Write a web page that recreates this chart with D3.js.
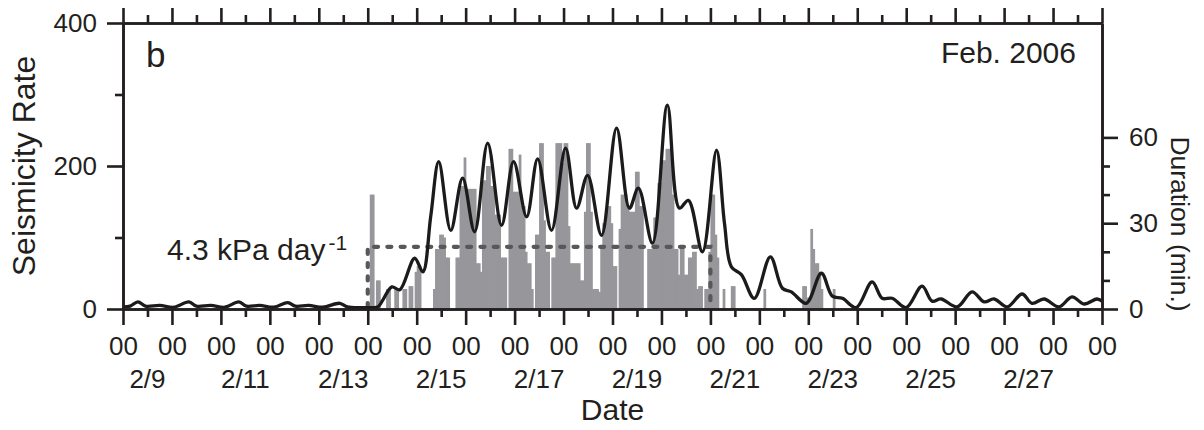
<!DOCTYPE html>
<html>
<head>
<meta charset="utf-8">
<title>Seismicity rate and tremor duration, Feb. 2006</title>
<script src="https://cdn.jsdelivr.net/npm/d3@7/dist/d3.min.js"></script>
<style>
  body { margin: 0; background: #fff; }
  svg { font-family: "Liberation Sans", Arial, Helvetica, sans-serif; }
  .axis path, .axis line { stroke: #231f20; stroke-width: 2.6px; }
  .axis text { fill: #231f20; font-size: 26px; }
  .lbl { fill: #231f20; }
</style>
</head>
<body>
<svg id="svg" width="1204" height="430"></svg>
<script>
// hours after 2006-02-09 00:00 UTC
var startDate = Date.UTC(2006, 1, 9);
var endHour = 480;

// seismicity rate curve (left axis)
var rateHours = [0, 3.5, 7.3, 11, 18, 25, 32.3, 36, 43, 50, 56.8, 60.5, 67, 74, 80.8, 84.5, 91, 98,
  106.3, 110, 118, 122, 125, 127.3, 131.8, 135.7, 143, 147, 150.9, 154.8, 160.7, 166.5, 172.4,
  178.8, 185.6, 191.5, 197.9, 203.3, 210.1, 217, 222.4, 227.8, 234.6, 242, 248.3, 252.7, 259.6,
  266.9, 272.8, 277.2, 284.1, 291, 294.9, 298.3, 303.2, 309.5, 317.4, 323.3, 327.7, 335, 342.4,
  347.8, 352.7, 359.5, 367.3, 372.2, 377.1, 384, 391.8, 396.7, 401.1, 409, 416.3, 422.2, 427.1,
  433.5, 440.8, 445.7, 451.6, 458.9, 465.3, 471.2, 477.6, 480];
var rateValues = [3, 4, 10, 4, 5, 2.5, 10, 4, 5, 2.5, 10, 4, 5, 2.5, 9, 4, 5, 2.5,
  8, 3, 2, 2, 3, 12, 31, 27, 71, 52, 130, 206, 110, 183, 108,
  232, 117, 206, 129, 210, 110, 225, 141, 187, 103, 253, 141, 169, 92,
  285, 141, 152, 80, 222, 120, 59, 48, 15, 73, 29, 24, 8, 50,
  18, 15, 2, 38, 15, 15, 2, 32, 11, 14, 3, 24, 10, 14,
  3, 21, 8, 14, 3, 17, 7, 14, 11];

// hourly tremor duration bars (right axis, minutes)
var barHours = [121, 122, 124, 125, 129, 130, 133, 134, 137, 138, 140, 141, 143, 144, 145,
  152, 153, 154, 155, 156, 157, 158, 159,
  163, 164, 165, 166, 167, 168, 169, 170, 171, 172, 173, 174,
  175, 176, 177, 178, 179, 180, 181, 182, 183, 184, 185, 186, 187,
  189, 190, 191, 192, 193, 194, 195, 196, 197, 198, 199, 200,
  202, 203, 204, 205, 206, 207, 208,
  210, 211, 212, 213, 214, 215, 216, 217, 218, 219, 220, 221, 222, 223, 224, 225, 226, 227, 228, 229,
  230, 231, 232, 233, 234, 235, 236, 237, 238, 239, 240, 241,
  243, 244, 245, 246, 247, 248, 249, 250, 251, 252, 253, 254,
  257, 258, 259, 260, 261, 262, 263, 264, 265, 266, 267, 268, 269, 270, 271, 272, 273, 274, 275,
  276, 277, 278, 279, 280, 281, 282, 283, 285, 286, 287, 288, 289, 290, 291,
  294, 298, 299, 314, 333, 334, 335, 336, 337, 338, 339, 340, 341, 342, 348];
var barMinutes = [40, 40, 10, 10, 7, 7, 7, 7, 7, 7, 8, 8, 13, 15, 15,
  7, 21, 21, 26, 26, 25, 18, 18,
  18, 18, 43, 43, 53, 42, 42, 42, 42, 42, 16, 16,
  13, 45, 45, 50, 50, 43, 43, 33, 33, 33, 18, 18, 18,
  56, 56, 41, 41, 41, 54, 36, 36, 20, 16, 16, 7,
  26, 26, 58, 58, 31, 20, 20,
  18, 18, 58, 58, 58, 51, 58, 58, 29, 16, 16, 16, 16, 16, 10, 10, 34, 58, 58, 34,
  7, 7, 7, 6, 22, 30, 30, 36, 36, 30, 15, 15,
  28, 40, 40, 40, 36, 34, 34, 34, 48, 48, 36, 36,
  21, 21, 21, 32, 32, 44, 44, 52, 52, 56, 56, 56, 40, 21, 21, 12, 21, 21, 12,
  12, 18, 18, 20, 20, 7, 8, 8, 7, 7, 20, 40, 40, 26, 18,
  7, 8, 8, 7, 8, 8, 4, 4, 28, 21, 16, 16, 13, 7, 7];

// 4.3 kPa/day window
var windowHours = [120, 288];
var windowLevel = 87;

var leftMajor = [0, 200, 400], leftMinor = [100, 300];
var rightMajor = [0, 30, 60], rightMinor = [10, 20, 40, 50];
var dateLabels = [9, 11, 13, 15, 17, 19, 21, 23, 25, 27];

var svg = d3.select("#svg");
var pLeft = 123, pRight = 1102, pTop = 23, pBottom = 309;

function toDate(h) { return new Date(startDate + h * 3600e3); }

var x = d3.scaleUtc().domain([toDate(0), toDate(endHour)]).range([pLeft, pRight]);
var yL = d3.scaleLinear().domain([0, 400]).range([pBottom, pTop]);
var yR = d3.scaleLinear().domain([0, 100]).range([pBottom, pTop]);

var days = d3.utcDay.range(toDate(0), toDate(endHour + 1));
var halves = d3.utcHour.range(toDate(0), toDate(endHour), 12).filter(function (d) { return d.getUTCHours() === 12; });

// bars (slightly overlapped so neighbouring hours merge)
var bw = x(toDate(1)) - x(toDate(0));
svg.append("g").selectAll("rect")
  .data(barHours.map(function (h, i) { return { h: h, m: barMinutes[i] }; }))
  .enter().append("rect")
  .attr("x", function (d) { return x(toDate(d.h)); })
  .attr("width", bw + 0.7)
  .attr("y", function (d) { return yR(d.m); })
  .attr("height", function (d) { return pBottom - yR(d.m); })
  .attr("fill", "#97979b");

// dotted window
var wl = d3.line();
svg.append("path")
  .attr("d", wl([[x(toDate(windowHours[0])), pBottom - 2], [x(toDate(windowHours[0])), yL(windowLevel)],
    [x(toDate(windowHours[1])), yL(windowLevel)], [x(toDate(windowHours[1])), pBottom - 2]]))
  .attr("fill", "none")
  .attr("stroke", "#58585a")
  .attr("stroke-width", 4.2)
  .attr("stroke-linecap", "round")
  .attr("stroke-dasharray", "4,9.3");

// rate curve
var line = d3.line()
  .x(function (d) { return x(toDate(d[0])); })
  .y(function (d) { return yL(d[1]); })
  .curve(d3.curveCatmullRom.alpha(0.5));
svg.append("path")
  .datum(rateHours.map(function (h, i) { return [h, rateValues[i]]; }))
  .attr("d", line)
  .attr("fill", "none")
  .attr("stroke", "#1c1a1b")
  .attr("stroke-width", 3.3);

// axes
svg.append("g").attr("class", "axis").attr("transform", "translate(0," + pBottom + ")")
  .call(d3.axisBottom(x).tickValues(days).tickSize(16).tickSizeOuter(0).tickPadding(12)
    .tickFormat(function () { return "00"; }));
svg.append("g").attr("class", "axis").attr("transform", "translate(0," + pBottom + ")")
  .call(d3.axisBottom(x).tickValues(halves).tickSize(8).tickSizeOuter(0).tickFormat(""));
svg.append("g").attr("class", "axis").attr("transform", "translate(0," + pTop + ")")
  .call(d3.axisTop(x).tickValues(days).tickSize(15).tickSizeOuter(0).tickFormat(""));
svg.append("g").attr("class", "axis").attr("transform", "translate(0," + pTop + ")")
  .call(d3.axisTop(x).tickValues(halves).tickSize(8).tickSizeOuter(0).tickFormat(""));

svg.append("g").attr("class", "axis").attr("transform", "translate(" + pLeft + ",0)")
  .call(d3.axisLeft(yL).tickValues(leftMajor).tickSize(16).tickSizeOuter(0).tickPadding(10));
svg.append("g").attr("class", "axis").attr("transform", "translate(" + pLeft + ",0)")
  .call(d3.axisLeft(yL).tickValues(leftMinor).tickSize(8).tickSizeOuter(0).tickFormat(""));
svg.append("g").attr("class", "axis").attr("transform", "translate(" + pRight + ",0)")
  .call(d3.axisRight(yR).tickValues(rightMajor).tickSize(16).tickSizeOuter(0).tickPadding(11));
svg.append("g").attr("class", "axis").attr("transform", "translate(" + pRight + ",0)")
  .call(d3.axisRight(yR).tickValues(rightMinor).tickSize(8).tickSizeOuter(0).tickFormat(""));

// date labels centred on each day
svg.append("g").selectAll("text")
  .data(dateLabels)
  .enter().append("text")
  .attr("class", "lbl")
  .attr("x", function (d) { return x(new Date(Date.UTC(2006, 1, d, 12))); })
  .attr("y", 388)
  .attr("text-anchor", "middle")
  .style("font-size", "26px")
  .text(function (d) { return "2/" + d; });

svg.append("text").attr("class", "lbl")
  .attr("x", (pLeft + pRight) / 2).attr("y", 420)
  .attr("text-anchor", "middle").style("font-size", "30px")
  .text("Date");

svg.append("text").attr("class", "lbl")
  .attr("transform", "translate(35," + (pTop + pBottom) / 2 + ") rotate(-90)")
  .attr("text-anchor", "middle").style("font-size", "32px")
  .text("Seismicity Rate");

svg.append("text").attr("class", "lbl")
  .attr("transform", "translate(1171,224) rotate(90)")
  .attr("text-anchor", "middle").style("font-size", "26.5px")
  .text("Duration (min.)");

svg.append("text").attr("class", "lbl")
  .attr("x", 146).attr("y", 67).style("font-size", "35px")
  .text("b");

svg.append("text").attr("class", "lbl")
  .attr("x", 1076).attr("y", 63).attr("text-anchor", "end").style("font-size", "30px")
  .text("Feb. 2006");

var ann = svg.append("text").attr("class", "lbl")
  .attr("x", 167).attr("y", 260).style("font-size", "30px");
ann.append("tspan").text("4.3 kPa day");
ann.append("tspan").attr("dx", 3).attr("dy", -10).style("font-size", "21px").text("-1");
</script>
</body>
</html>
